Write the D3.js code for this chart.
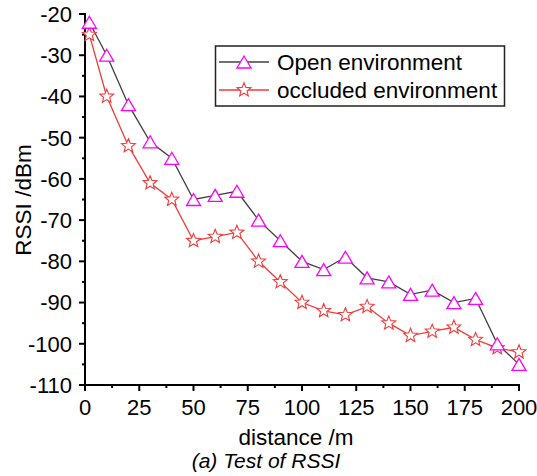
<!DOCTYPE html>
<html><head><meta charset="utf-8">
<script src="https://cdn.jsdelivr.net/npm/d3@7"></script>
<style>body{margin:0;background:#fff}svg{display:block}text{font-family:"Liberation Sans",Arial,sans-serif;fill:#000}</style>
</head><body><svg id="c" width="537" height="476"></svg>
<script>
const distances = [2,10,20,30,40,50,60,70,80,90,100,110,120,130,140,150,160,170,180,190,200];
const openEnv = [-22,-30,-42,-51,-55,-65,-64,-63,-70,-75,-80,-82,-79,-84,-85,-88,-87,-90,-89,-100,-105];
const occludedEnv = [-25,-40,-52,-61,-65,-75,-74,-73,-80,-85,-90,-92,-93,-91,-95,-98,-97,-96,-99,-101,-102];
const xTicks = [0,25,50,75,100,125,150,175,200];
const yTicks = [-20,-30,-40,-50,-60,-70,-80,-90,-100,-110];
const seriesNames = ["Open environment","occluded environment"];

const svg = d3.select("#c");
const x = d3.scaleLinear().domain([0,200]).range([85,519]);
const y = d3.scaleLinear().domain([-110,-20]).range([385,14]);

function triPath(cx, cy){
  const w=7, h=12;
  return `M${cx},${cy-h/2}L${cx+w},${cy+h/2}L${cx-w},${cy+h/2}Z`;
}
function starPath(cx, cy){
  const R=7.3, r=3.2; let p="";
  for(let i=0;i<10;i++){
    const a=-Math.PI/2+i*Math.PI/5, rr=i%2?r:R;
    p+=(i?"L":"M")+(cx+rr*Math.cos(a)).toFixed(2)+","+(cy+rr*Math.sin(a)).toFixed(2);
  }
  return p+"Z";
}

// axes
const ax = svg.append("g");
ax.append("line").attr("x1",x(0)).attr("x2",x(0)).attr("y1",y(-20)-1).attr("y2",y(-110)+1).attr("stroke","#000").attr("stroke-width",2);
ax.append("line").attr("x1",x(0)-1).attr("x2",x(200)+1).attr("y1",y(-110)).attr("y2",y(-110)).attr("stroke","#000").attr("stroke-width",2);
yTicks.forEach(v=>{
  ax.append("line").attr("x1",x(0)-6).attr("x2",x(0)).attr("y1",y(v)).attr("y2",y(v)).attr("stroke","#000").attr("stroke-width",2);
  ax.append("text").attr("x",72).attr("y",y(v)).attr("dy","0.36em").attr("text-anchor","end").attr("font-size",22).text(v);
});
d3.range(-25,-110,-10).forEach(v=>{
  ax.append("line").attr("x1",x(0)-3).attr("x2",x(0)).attr("y1",y(v)).attr("y2",y(v)).attr("stroke","#000").attr("stroke-width",2);
});
xTicks.forEach(v=>{
  ax.append("line").attr("x1",x(v)).attr("x2",x(v)).attr("y1",y(-110)).attr("y2",y(-110)+6).attr("stroke","#000").attr("stroke-width",2);
  ax.append("text").attr("x",x(v)).attr("y",415).attr("text-anchor","middle").attr("font-size",22).text(v);
});
d3.range(12.5,200,25).forEach(v=>{
  ax.append("line").attr("x1",x(v)).attr("x2",x(v)).attr("y1",y(-110)).attr("y2",y(-110)+3).attr("stroke","#000").attr("stroke-width",2);
});

// titles
svg.append("text").attr("x",296).attr("y",445).attr("text-anchor","middle").attr("font-size",22.5).text("distance /m");
svg.append("text").attr("transform","translate(31,200) rotate(-90)").attr("text-anchor","middle").attr("font-size",22.5).text("RSSI /dBm");
svg.append("text").attr("x",266).attr("y",468).attr("text-anchor","middle").attr("font-size",21).attr("font-style","italic").text("(a)  Test of RSSI");

// series
const line = d3.line().x(d=>x(d[0])).y(d=>y(d[1]));
const openData = distances.map((d,i)=>[d,openEnv[i]]);
const occData = distances.map((d,i)=>[d,occludedEnv[i]]);
const openColor="#404040", triColor="#ff00ff", occColor="#f03c3c";

svg.append("path").attr("d",line(openData)).attr("fill","none").attr("stroke",openColor).attr("stroke-width",1.3);
svg.append("path").attr("d",line(occData)).attr("fill","none").attr("stroke",occColor).attr("stroke-width",1.3);
svg.selectAll(".star").data(occData).enter().append("path").attr("class","star")
  .attr("d",d=>starPath(x(d[0]),y(d[1]))).attr("fill","#fff").attr("stroke",occColor).attr("stroke-width",1.1);
svg.selectAll(".tri").data(openData).enter().append("path").attr("class","tri")
  .attr("d",d=>triPath(x(d[0]),y(d[1]))).attr("fill","#fff").attr("stroke",triColor).attr("stroke-width",1.3);

// legend
const lg = svg.append("g");
lg.append("rect").attr("x",215.5).attr("y",46).attr("width",289).attr("height",60).attr("fill","#fff").attr("stroke","#222").attr("stroke-width",1.5);
lg.append("line").attr("x1",219).attr("x2",269).attr("y1",62).attr("y2",62).attr("stroke",openColor).attr("stroke-width",1.3);
lg.append("path").attr("d",triPath(244,62)).attr("fill","#fff").attr("stroke",triColor).attr("stroke-width",1.3);
lg.append("text").attr("x",277).attr("y",70).attr("font-size",22.5).text(seriesNames[0]);
lg.append("line").attr("x1",219).attr("x2",269).attr("y1",90).attr("y2",90).attr("stroke",occColor).attr("stroke-width",1.3);
lg.append("path").attr("d",starPath(244,90)).attr("fill","#fff").attr("stroke",occColor).attr("stroke-width",1.1);
lg.append("text").attr("x",277).attr("y",98).attr("font-size",22.5).text(seriesNames[1]);
</script></body></html>
